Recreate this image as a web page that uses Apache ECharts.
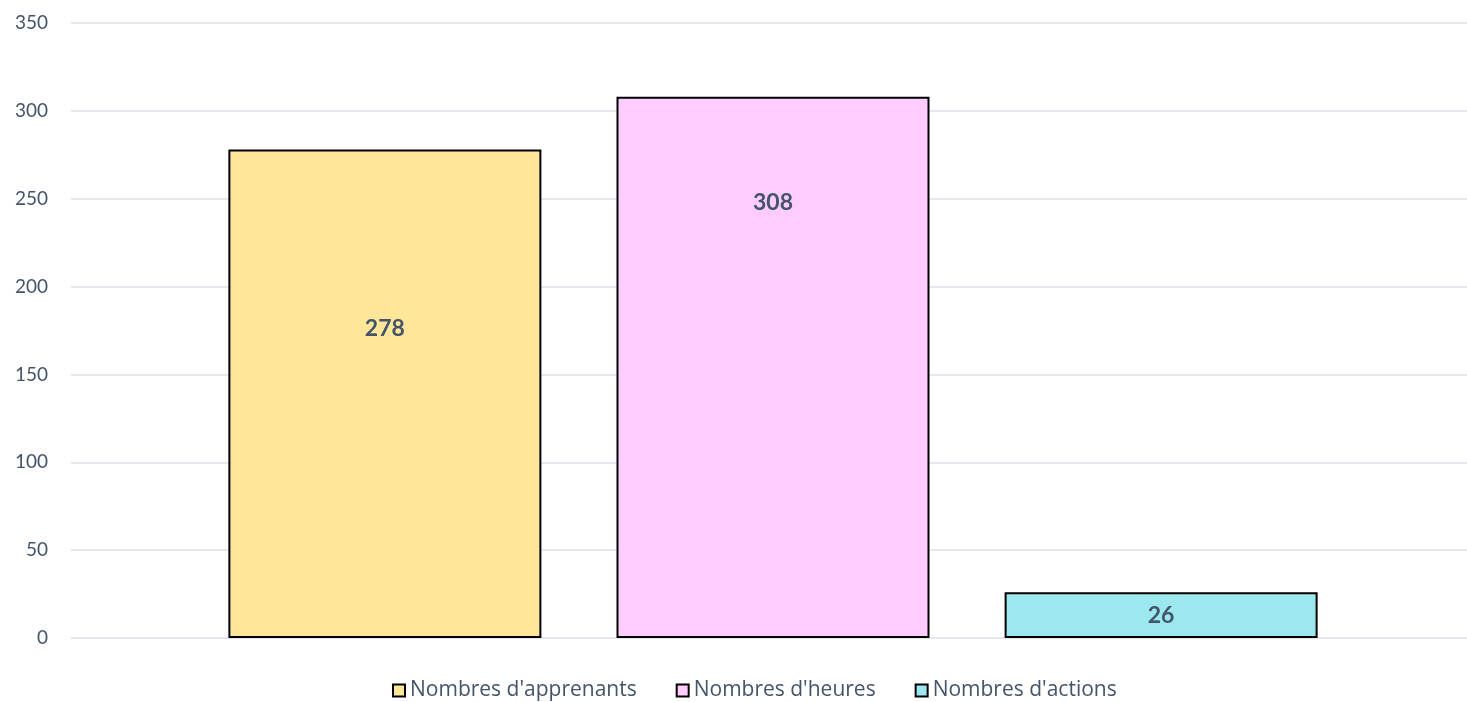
<!DOCTYPE html>
<html>
<head>
<meta charset="utf-8">
<script src="https://cdn.jsdelivr.net/npm/echarts@6/dist/echarts.min.js"></script>
<style>
html, body { margin: 0; padding: 0; background: #fff; overflow: hidden; }
#chart1 { width: 1475px; height: 702px; }
</style>
</head>
<body>
<div id="chart1"></div>
<script>
var seriesNames = ["Nombres d'apprenants", "Nombres d'heures", "Nombres d'actions"];
var seriesValues = [278, 308, 26];
var seriesColors = ['#FFE699', '#FFCCFF', '#9BE9EF'];
// where the label sits inside each bar (fraction of bar height from top)
var labelTops = ['36.7%', '19.5%', '50%'];

var textColor = '#44546A';
var fontName = 'Lato, "Noto Sans", sans-serif';

var series = seriesNames.map(function (name, i) {
	return {
		name: name,
		type: 'bar',
		data: [seriesValues[i]],
		barWidth: 313,
		barGap: '24%',
		itemStyle: {
			color: seriesColors[i],
			borderColor: '#000',
			borderWidth: 2
		},
		label: {
			show: true,
			position: ['50%', labelTops[i]],
			align: 'center',
			verticalAlign: 'middle',
			color: textColor,
			fontWeight: 'bold',
			fontSize: 23,
			fontFamily: fontName
		}
	};
});

var option = {
	animation: false,
	grid: {
		left: 71,
		right: 0,
		top: 23,
		bottom: 64
	},
	legend: {
		data: seriesNames,
		top: 675,
		left: 387,
		icon: 'rect',
		itemWidth: 12,
		itemHeight: 12,
		itemGap: 39,
		textStyle: {
			color: textColor,
			fontSize: 21,
			fontFamily: '"Open Sans", sans-serif',
			padding: [0, 0, 0, 0]
		}
	},
	xAxis: {
		type: 'category',
		data: [''],
		axisLine: { show: false },
		axisTick: { show: false },
		axisLabel: { show: false }
	},
	yAxis: {
		type: 'value',
		min: 0,
		max: 350,
		interval: 50,
		axisLine: { show: false },
		axisTick: { show: false },
		axisLabel: {
			color: textColor,
			fontSize: 19,
			fontFamily: fontName,
			margin: 23
		},
		splitLine: {
			lineStyle: { color: '#DDE1E8', width: 1.5 }
		}
	},
	series: series
};
var chart1 = echarts.init(document.getElementById('chart1'));
chart1.setOption(option);
</script>
</body>
</html>
